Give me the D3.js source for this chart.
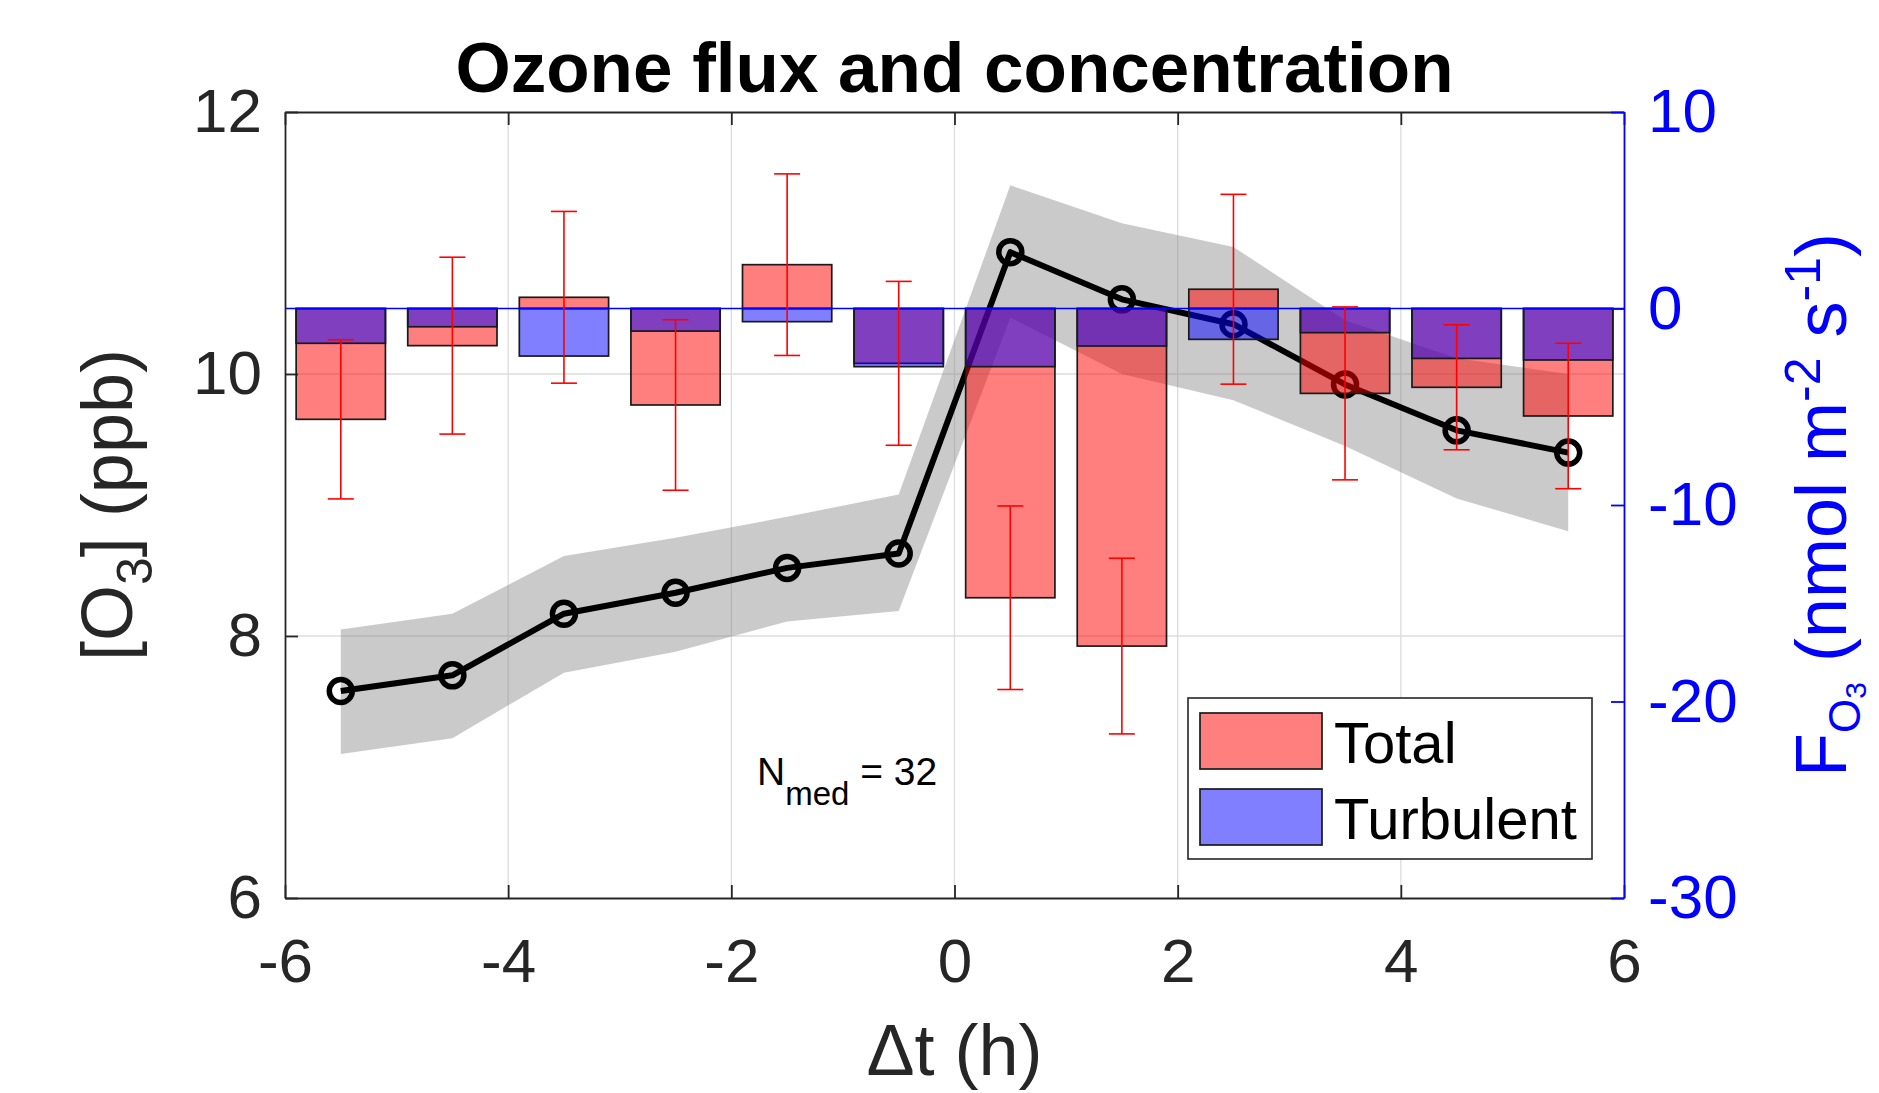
<!DOCTYPE html>
<html>
<head>
<meta charset="utf-8">
<script src="https://cdn.jsdelivr.net/npm/d3@7"></script>
<style>
  body { margin: 0; background: #fff; overflow: hidden; }
  text { font-family: "Liberation Sans", Arial, Helvetica, sans-serif; }
</style>
</head>
<body>
<div class="chart"></div>
<script>
// hourly bins relative to the event
const hours = [-5.5, -4.5, -3.5, -2.5, -1.5, -0.5, 0.5, 1.5, 2.5, 3.5, 4.5, 5.5]
// ozone concentration (ppb): median and shaded range
const o3Median = [7.58, 7.70, 8.17, 8.33, 8.52, 8.63, 10.93, 10.57, 10.38, 9.92, 9.57, 9.40]
const o3Upper = [8.05, 8.17, 8.61, 8.75, 8.91, 9.08, 11.44, 11.15, 10.97, 10.41, 10.12, 10.00]
const o3Lower = [7.10, 7.22, 7.72, 7.88, 8.11, 8.19, 10.43, 10.00, 9.80, 9.45, 9.05, 8.80]
// ozone flux (nmol m-2 s-1)
const fluxTotal = [-5.64, -1.89, 0.57, -4.91, 2.23, -2.79, -14.72, -17.18, 0.98, -4.32, -4.01, -5.47]
const fluxTurbulent = [-1.77, -0.93, -2.42, -1.15, -0.67, -2.96, -2.96, -1.91, -1.57, -1.23, -2.54, -2.62]
const fluxSpread = [4.05, 4.50, 4.37, 4.34, 4.62, 4.17, 4.67, 4.47, 4.83, 4.40, 3.18, 3.70]

const xTicks = [-6, -4, -2, 0, 2, 4, 6]
const leftTicks = [6, 8, 10, 12]
const rightTicks = [-30, -20, -10, 0, 10]
const seriesNames = ["Total", "Turbulent"]
const medianCount = 32

class FluxChart {
  constructor(width, height, margins) {
    this.width = width
    this.height = height
    this.margins = margins
    this.axisColor = "#262626"
    this.svg = this.createSvg()

    this.createScale()
    this.createGrid()
    this.drawConcentration()
    this.drawFlux()
    this.createAxes()
    this.drawLabels()
    this.drawLegend()
  }

  createSvg() {
    const root = d3.select(".chart")
      .append("svg")
      .attr("width", this.width + this.margins.left + this.margins.right)
      .attr("height", this.height + this.margins.top + this.margins.bottom)
    root.append("rect").attr("width", "100%").attr("height", "100%").attr("fill", "#fff")
    return root.append("g")
      .attr("transform", "translate(" + this.margins.left + "," + this.margins.top + ")")
  }

  createScale() {
    this.scaleX = d3.scaleLinear().domain([-6, 6]).range([0, this.width])
    this.scaleL = d3.scaleLinear().domain([6, 12]).range([this.height, 0])
    this.scaleR = d3.scaleLinear().domain([-30, 10]).range([this.height, 0])
  }

  createGrid() {
    const grid = this.svg.append("g").attr("stroke", "#dcdcdc").attr("stroke-width", 1.3)
    grid.selectAll(".vgrid")
      .data(xTicks.slice(1, -1))
      .enter()
      .append("line")
      .attr("x1", d => this.scaleX(d)).attr("x2", d => this.scaleX(d))
      .attr("y1", 0).attr("y2", this.height)
    grid.selectAll(".hgrid")
      .data(leftTicks.slice(1, -1))
      .enter()
      .append("line")
      .attr("y1", d => this.scaleL(d)).attr("y2", d => this.scaleL(d))
      .attr("x1", 0).attr("x2", this.width)
  }

  drawConcentration() {
    const that = this
    const band = d3.area()
      .x((d, i) => that.scaleX(hours[i]))
      .y0((d, i) => that.scaleL(o3Lower[i]))
      .y1((d, i) => that.scaleL(o3Upper[i]))
    this.svg.append("path")
      .datum(hours)
      .attr("d", band)
      .attr("fill", "#808080")
      .attr("fill-opacity", 0.42)

    const line = d3.line()
      .x((d, i) => that.scaleX(hours[i]))
      .y(d => that.scaleL(d))
    this.svg.append("path")
      .datum(o3Median)
      .attr("d", line)
      .attr("fill", "none")
      .attr("stroke", "#000")
      .attr("stroke-width", 6)
      .attr("stroke-linejoin", "round")

    this.svg.append("g")
      .selectAll("circle")
      .data(o3Median)
      .enter()
      .append("circle")
      .attr("cx", (d, i) => that.scaleX(hours[i]))
      .attr("cy", d => that.scaleL(d))
      .attr("r", 11.5)
      .attr("fill", "none")
      .attr("stroke", "#000")
      .attr("stroke-width", 5.5)
  }

  drawFlux() {
    const that = this
    const barW = this.scaleX(0.4) - this.scaleX(-0.4)
    const zero = this.scaleR(0)

    const addBars = (values, color) => {
      this.svg.append("g")
        .selectAll("rect")
        .data(values)
        .enter()
        .append("rect")
        .attr("x", (d, i) => that.scaleX(hours[i]) - barW / 2)
        .attr("y", d => Math.min(zero, that.scaleR(d)))
        .attr("width", barW)
        .attr("height", d => Math.abs(that.scaleR(d) - zero))
        .attr("fill", color)
        .attr("fill-opacity", 0.5)
        .attr("stroke", "#1a1a1a")
        .attr("stroke-width", 1.7)
    }
    addBars(fluxTotal, "#ff0000")
    addBars(fluxTurbulent, "#0000ff")

    // bar baseline
    this.svg.append("line")
      .attr("x1", 0).attr("x2", this.width)
      .attr("y1", zero).attr("y2", zero)
      .attr("stroke", "#0000ff").attr("stroke-width", 1.6)

    // error bars on total flux
    const cap = 13
    const err = this.svg.append("g").attr("stroke", "#ff0000").attr("stroke-width", 1.6)
    const errs = err.selectAll("g").data(fluxTotal).enter().append("g")
    errs.append("line")
      .attr("x1", (d, i) => that.scaleX(hours[i])).attr("x2", (d, i) => that.scaleX(hours[i]))
      .attr("y1", (d, i) => that.scaleR(d + fluxSpread[i]))
      .attr("y2", (d, i) => that.scaleR(d - fluxSpread[i]))
    errs.append("line")
      .attr("x1", (d, i) => that.scaleX(hours[i]) - cap).attr("x2", (d, i) => that.scaleX(hours[i]) + cap)
      .attr("y1", (d, i) => that.scaleR(d + fluxSpread[i]))
      .attr("y2", (d, i) => that.scaleR(d + fluxSpread[i]))
    errs.append("line")
      .attr("x1", (d, i) => that.scaleX(hours[i]) - cap).attr("x2", (d, i) => that.scaleX(hours[i]) + cap)
      .attr("y1", (d, i) => that.scaleR(d - fluxSpread[i]))
      .attr("y2", (d, i) => that.scaleR(d - fluxSpread[i]))
  }

  styleAxis(axis, color, size) {
    axis.select(".domain").attr("stroke", color).attr("stroke-width", 1.8)
    axis.selectAll(".tick line").attr("stroke", color).attr("stroke-width", 1.8)
    axis.selectAll(".tick text")
      .attr("fill", color)
      .style("font-size", size + "px")
  }

  createAxes() {
    const fmt = d => String(d)

    const axisB = this.svg.append("g").attr("transform", "translate(0," + this.height + ")")
    axisB.call(d3.axisBottom(this.scaleX).tickValues(xTicks).tickFormat(fmt)
      .tickSizeInner(-13).tickSizeOuter(0).tickPadding(40))
    this.styleAxis(axisB, this.axisColor, 62)

    const axisT = this.svg.append("g")
    axisT.call(d3.axisTop(this.scaleX).tickValues(xTicks).tickFormat("")
      .tickSizeInner(-13).tickSizeOuter(0))
    this.styleAxis(axisT, this.axisColor, 62)

    const axisL = this.svg.append("g")
    axisL.call(d3.axisLeft(this.scaleL).tickValues(leftTicks).tickFormat(fmt)
      .tickSizeInner(-13).tickSizeOuter(0).tickPadding(23))
    this.styleAxis(axisL, this.axisColor, 62)

    const axisR = this.svg.append("g").attr("transform", "translate(" + this.width + ",0)")
    axisR.call(d3.axisRight(this.scaleR).tickValues(rightTicks).tickFormat(fmt)
      .tickSizeInner(-13).tickSizeOuter(0).tickPadding(24))
    this.styleAxis(axisR, "#0000ff", 62)
  }

  drawLabels() {
    const cx = this.width / 2
    this.svg.append("text")
      .text("Ozone flux and concentration")
      .attr("x", cx).attr("y", -20)
      .attr("text-anchor", "middle")
      .style("font-size", "71px").style("font-weight", "bold")
      .attr("fill", "#000")

    this.svg.append("text")
      .text("\u0394t (h)")
      .attr("x", cx).attr("y", this.height + 177)
      .attr("text-anchor", "middle")
      .style("font-size", "72px")
      .attr("fill", this.axisColor)

    const left = this.svg.append("text")
      .attr("transform", "translate(" + (-153) + "," + (this.height / 2) + ") rotate(-90)")
      .attr("text-anchor", "middle")
      .style("font-size", "72px")
      .attr("fill", this.axisColor)
    left.append("tspan").text("[O")
    left.append("tspan").text("3").style("font-size", "50px").attr("dy", 20)
    left.append("tspan").text("] (ppb)").attr("dy", -20)

    const right = this.svg.append("text")
      .attr("transform", "translate(" + (this.width + 222) + "," + (this.height / 2) + ") rotate(-90)")
      .attr("text-anchor", "middle")
      .style("font-size", "72px")
      .attr("fill", "#0000ff")
    right.append("tspan").text("F")
    right.append("tspan").text("O").style("font-size", "44px").attr("dy", 14)
    right.append("tspan").text("3").style("font-size", "30px").attr("dy", 6)
    right.append("tspan").text(" (nmol m").attr("dy", -20)
    right.append("tspan").text("-2").style("font-size", "50px").attr("dy", -26)
    right.append("tspan").text(" s").attr("dy", 26)
    right.append("tspan").text("-1").style("font-size", "50px").attr("dy", -26)
    right.append("tspan").text(")").attr("dy", 26)

    const note = this.svg.append("text")
      .attr("x", this.scaleX(-1.77)).attr("y", this.scaleL(6.86))
      .style("font-size", "39px")
      .attr("fill", "#000")
    note.append("tspan").text("N")
    note.append("tspan").text("med").style("font-size", "33px").attr("dy", 20)
    note.append("tspan").text(" = " + medianCount).attr("dy", -20)
  }

  drawLegend() {
    const lx = this.width - 436
    const ly = this.height - 200
    const g = this.svg.append("g").attr("transform", "translate(" + lx + "," + ly + ")")
    g.append("rect")
      .attr("width", 404).attr("height", 161)
      .attr("fill", "#fff").attr("stroke", this.axisColor).attr("stroke-width", 1.6)
    const colors = ["#ff0000", "#0000ff"]
    const items = g.selectAll(".item")
      .data(seriesNames)
      .enter()
      .append("g")
      .attr("transform", (d, i) => "translate(12," + (15 + i * 76) + ")")
    items.append("rect")
      .attr("width", 122).attr("height", 56)
      .attr("fill", (d, i) => colors[i]).attr("fill-opacity", 0.5)
      .attr("stroke", "#1a1a1a").attr("stroke-width", 1.7)
    items.append("text")
      .text(d => d)
      .attr("x", 134).attr("y", 50)
      .style("font-size", "58px")
      .attr("fill", "#000")
  }
}

new FluxChart(1339, 786, { top: 112, right: 255, bottom: 195, left: 285 })
</script>
</body>
</html>
